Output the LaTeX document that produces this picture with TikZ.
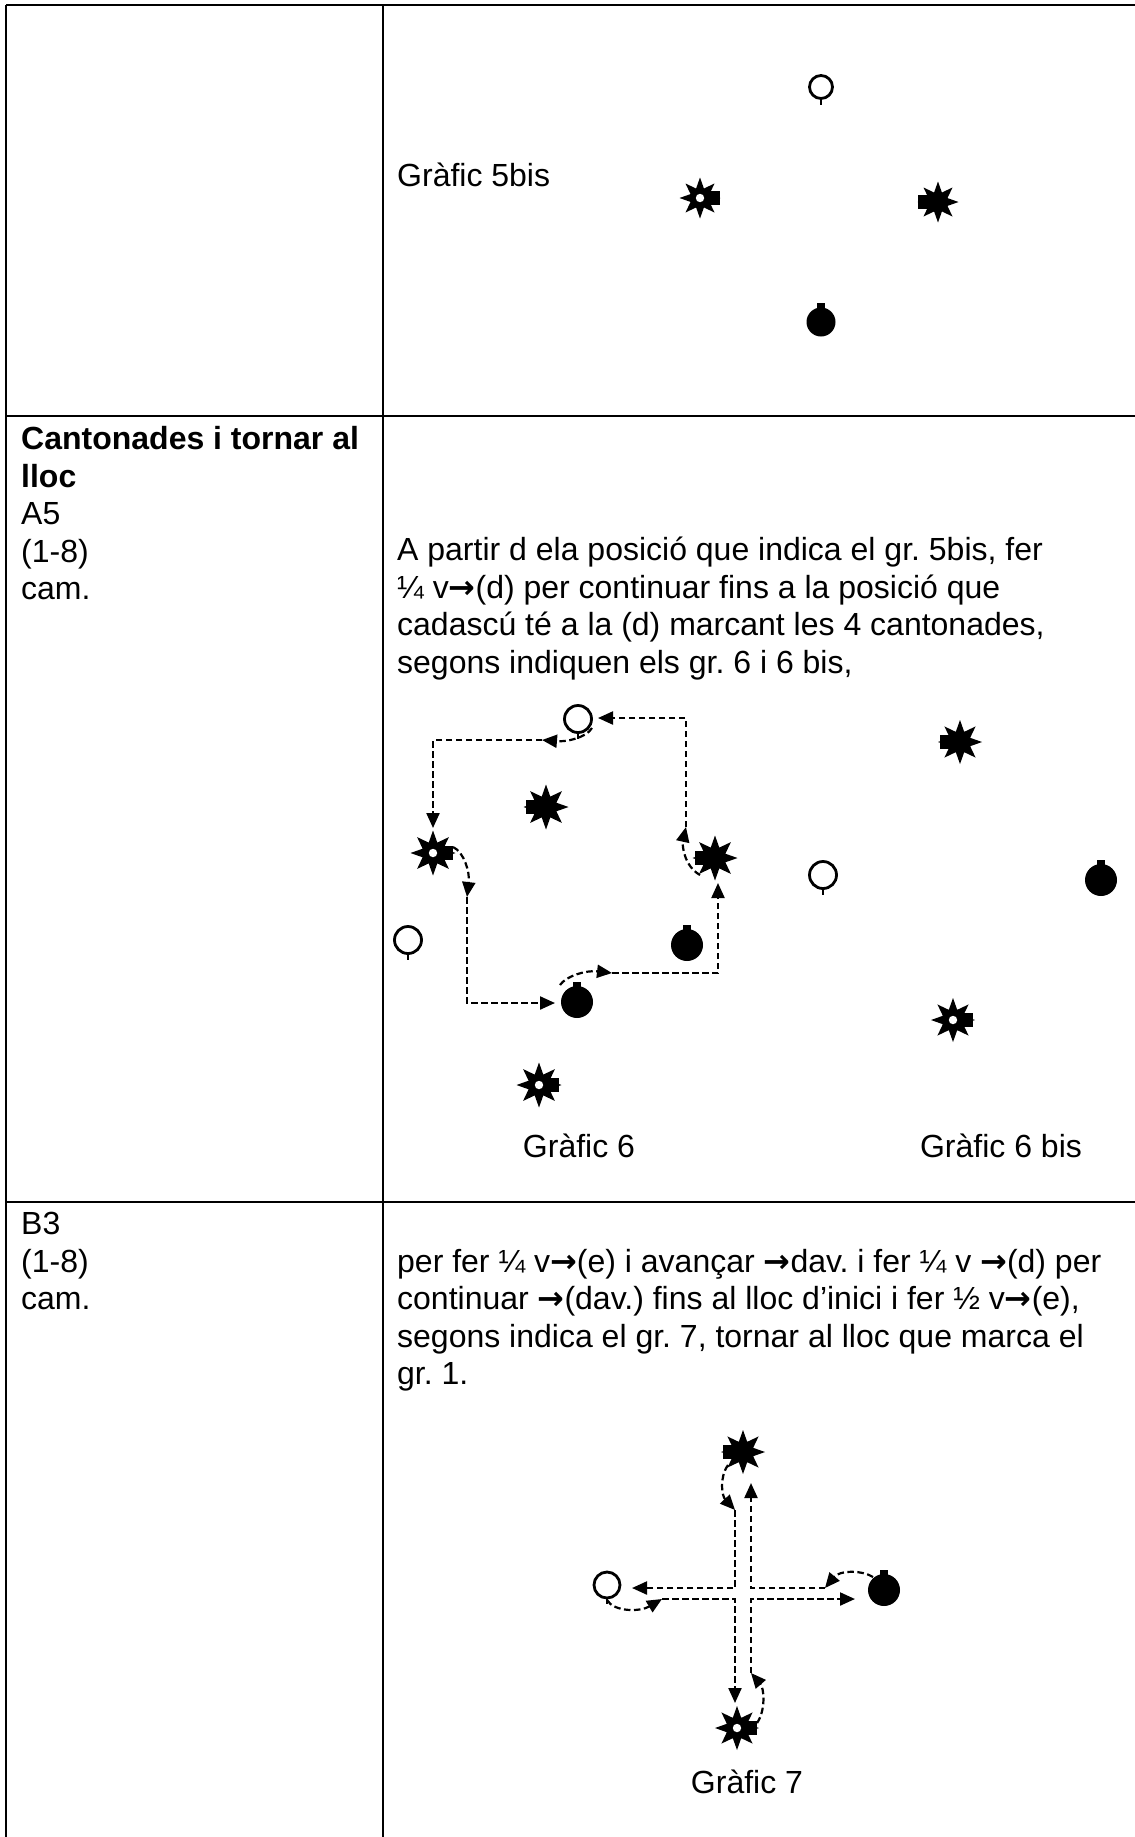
\documentclass[tikz,border=0pt]{standalone}
\usepackage{fontspec}
\setmainfont{Liberation Sans}
\newfontfamily\arrfont{DejaVu Sans}
\usetikzlibrary{arrows.meta,shapes.geometric}
\newcommand{\ra}{{\arrfont\bfseries →}}
\frenchspacing
\tikzset{
  txt/.style={font=\fontsize{32}{38}\selectfont, inner sep=0pt, anchor=base west},
  lbl/.style={font=\fontsize{32}{38}\selectfont, inner sep=0pt, anchor=base},
  grid/.style={line width=2.2pt},
  arr/.style={dash pattern=on 6.5pt off 3.5pt, line width=2.2pt, -{Triangle[length=15pt,width=13pt]}},
  sfill/.style={star, star points=8, star point ratio=2.0, minimum size=#1, inner sep=0pt, fill=black},
  starF/.pic={\node[sfill=#1] (-c) at (0,0) {}; \fill (-20,-7) rectangle (-8,7);},
  starH/.pic={\node[sfill=#1] (-c) at (0,0) {}; \fill (8,-7) rectangle (20,7); \fill[white] (0,0) circle (4.2pt);},
  openC/.pic={\node[circle, draw, line width=2.8pt, minimum size=#1, inner sep=0pt] (-c) at (0,0) {};
              \draw[line width=2.6pt] (-c.south) -- ++(0,5);},
  fillC/.pic={\node[circle, fill=black, minimum size=#1, inner sep=0pt] (-c) at (0,0) {};
              \fill (-c.north) ++(-4,-4) rectangle ++(8,6);},
}
\begin{document}
\begin{tikzpicture}[x=1pt,y=-1pt]
\useasboundingbox (0,0) rectangle (1135,1837);
% table
\draw[grid] (6,5) -- (1135,5);
\draw[grid] (6,5) -- (6,1837);
\draw[grid] (383,5) -- (383,1837);
\draw[grid] (6,416) -- (1135,416);
\draw[grid] (6,1202) -- (1135,1202);

% row 1
\node[txt] (t5) at (397,186) {Gràfic 5bis};
\pic (g5o) at (821,87) {openC=23pt};
\pic (g5h) at (700,198) {starH=41pt};
\pic (g5f) at (938,202) {starF=41pt};
\pic (g5c) at (821,322) {fillC=29pt};

% row 2 left
\node[txt] (l1) at (21,449) {\bfseries Cantonades i tornar al};
\node[txt] (l2) at (21,487) {\bfseries lloc};
\node[txt] (l3) at (21,524) {A5};
\node[txt] (l4) at (21,562) {(1-8)};
\node[txt] (l5) at (21,599) {cam.};
% row 2 right
\node[txt] (r1) at (397,560) {A partir d ela posició que indica el gr. 5bis, fer};
\node[txt] (r2) at (397,598) {¼ v\ra(d) per continuar fins a la posició que};
\node[txt] (r3) at (397,635) {cadascú té a la (d) marcant les 4 cantonades,};
\node[txt] (r4) at (397,673) {segons indiquen els gr. 6 i 6 bis,};

% Grafic 6
\pic (g6o1) at (578,719) {openC=27pt};
\pic (g6f1) at (546,807) {starF=45pt};
\pic (g6h1) at (433,853) {starH=45pt};
\pic (g6f2) at (715,858) {starF=45pt};
\pic (g6o2) at (408,940) {openC=27pt};
\pic (g6c1) at (687,945) {fillC=32pt};
\pic (g6c2) at (577,1002) {fillC=32pt};
\pic (g6h2) at (539,1085) {starH=45pt};
\node[lbl] (t6) at (579,1157) {Gràfic 6};

\coordinate (a1s) at (700,875);  \coordinate (a1e) at (686,827);  \coordinate (a1t) at (598,718);
\coordinate (a2s) at (592,728);  \coordinate (a2e) at (542,740);  \coordinate (a2t) at (433,828);
\coordinate (a3s) at (453,847);  \coordinate (a3e) at (467,897);  \coordinate (a3t) at (555,1003);
\coordinate (a4s) at (560,985);  \coordinate (a4e) at (612,973);  \coordinate (a4t) at (718,883);
\draw[arr] (a1s) .. controls (684,866) and (682,845) .. (a1e);
\draw[arr] (a1e) |- (a1t);
\draw[arr] (a2s) .. controls (586,738) and (566,742) .. (a2e);
\draw[arr] (a2e) -| (a2t);
\draw[arr] (a3s) .. controls (464,852) and (470,872) .. (a3e);
\draw[arr] (a3e) |- (a3t);
\draw[arr] (a4s) .. controls (566,976) and (586,970) .. (a4e);
\draw[arr] (a4e) -| (a4t);

% Grafic 6 bis
\pic (b6f) at (960,742) {starF=44pt};
\pic (b6o) at (823,875) {openC=27pt};
\pic (b6c) at (1101,880) {fillC=32pt};
\pic (b6h) at (953,1020) {starH=44pt};
\node[lbl] (t6b) at (1001,1157) {Gràfic 6 bis};

% row 3 left
\node[txt] (m1) at (21,1234) {B3};
\node[txt] (m2) at (21,1272) {(1-8)};
\node[txt] (m3) at (21,1309) {cam.};
% row 3 right
\node[txt] (s1) at (397,1272) {per fer ¼ v\ra(e) i avançar \ra dav. i fer ¼ v \ra(d) per};
\node[txt] (s2) at (397,1309) {continuar \ra(dav.) fins al lloc d’inici i fer ½ v\ra(e),};
\node[txt] (s3) at (397,1347) {segons indica el gr. 7, tornar al lloc que marca el};
\node[txt] (s4) at (397,1384) {gr. 1.};

% Grafic 7
\pic (g7f) at (743,1452) {starF=44pt};
\pic (g7o) at (607,1585) {openC=26pt};
\pic (g7c) at (884,1590) {fillC=32pt};
\pic (g7h) at (737,1728) {starH=44pt};
\node[lbl] (t7) at (747,1793) {Gràfic 7};

\coordinate (c1s) at (873,1577); \coordinate (c1e) at (825,1588); \coordinate (c1t) at (751,1483);
\coordinate (c2s) at (728,1465); \coordinate (c2e) at (735,1510); \coordinate (c2t) at (632,1588);
\coordinate (c3s) at (607,1600); \coordinate (c3e) at (662,1599); \coordinate (c3t) at (735,1703);
\coordinate (c4s) at (757,1723); \coordinate (c4e) at (751,1673); \coordinate (c4t) at (855,1599);
\draw[arr] (c1s) .. controls (862,1570) and (840,1570) .. (c1e);
\draw[arr] (c1e) -| (c1t);
\draw[arr] (c2s) .. controls (719,1478) and (722,1496) .. (c2e);
\draw[arr] (c2e) |- (c2t);
\draw[arr] (c3s) .. controls (614,1612) and (640,1612) .. (c3e);
\draw[arr] (c3e) -| (c3t);
\draw[arr] (c4s) .. controls (766,1710) and (764,1688) .. (c4e);
\draw[arr] (c4e) |- (c4t);
\end{tikzpicture}
\end{document}
